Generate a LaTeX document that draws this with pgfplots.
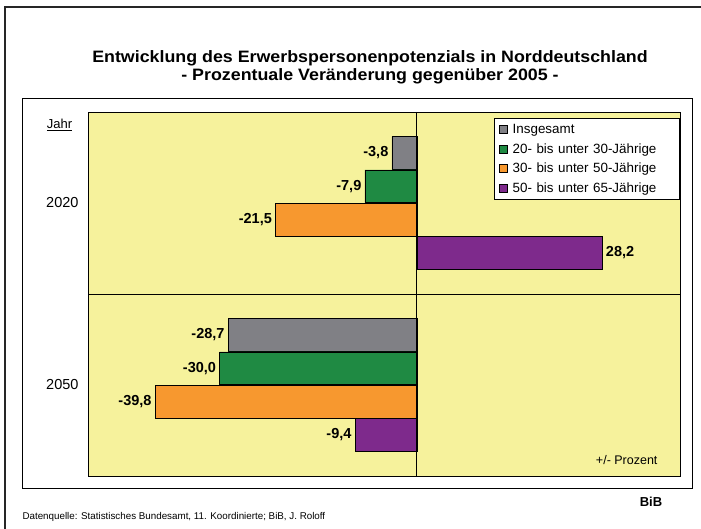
\documentclass[border=0pt]{standalone}
\usepackage{pgfplots}
\pgfplotsset{compat=1.18}
\usepackage{fontspec}
\setmainfont{Liberation Sans}
\definecolor{bgyellow}{HTML}{F6F29C}
\definecolor{barGray}{HTML}{808085}
\definecolor{barGreen}{HTML}{1F8A43}
\definecolor{barOrange}{HTML}{F7982F}
\definecolor{barPurple}{HTML}{7E2A8C}
\newcommand\pxfont[1]{\fontsize{#1pt}{#1pt}\selectfont}
\pgfplotsset{sqlegend/.style={legend image code/.code={\draw[##1,draw=black,line width=0.5pt] (0pt,-4pt) rectangle (8pt,4pt);}}}

\begin{document}
\begin{tikzpicture}
\useasboundingbox (0pt,0pt) rectangle (701pt,529pt);
\draw[line width=2.5pt,black!85] (5pt,0pt) -- (5pt,522pt) -- (701pt,522pt);
\draw[line width=0.8pt] (22pt,41pt) rectangle (692pt,431pt);
\node[font=\bfseries\pxfont{16.5}] at (370pt,470.5pt) {\scalebox{1.08}[1]{Entwicklung des Erwerbspersonenpotenzials in Norddeutschland}};
\node[font=\bfseries\pxfont{16.5}] at (370pt,453pt) {\scalebox{1.08}[1]{- Prozentuale Veränderung gegenüber 2005 -}};

\begin{axis}[at={(88pt,53pt)},anchor=south west,scale only axis,width=592pt,height=364pt,
 xbar,bar width=0.18,xmin=-50,xmax=40,ymin=-0.5,ymax=1.5,y dir=reverse,
 axis background/.style={fill=bgyellow},axis line style={line width=0.8pt},
 xtick=\empty,ytick={0,1},yticklabels={2020,2050},major tick length=0pt,
 yticklabel style={font=\pxfont{14.5},xshift=-6pt},
 point meta=x,
 nodes near coords={\pgfmathprintnumber[fixed,fixed zerofill,precision=1,use comma,assume math mode=true]{\pgfplotspointmeta}},
 every node near coord/.append style={font=\bfseries\pxfont{14.5},black},
 legend cell align=left,
 legend style={at={(1,0.9835)},anchor=north east,draw=black,fill=white,font=\pxfont{13.4},
  line width=0.6pt,inner xsep=5pt,inner ysep=4pt,row sep=4.3pt,
  /tikz/every odd column/.append style={column sep=3pt},
  /tikz/every even column/.append style={text width=160pt}}]
\addplot[fill=barGray,draw=black,line width=0.5pt,bar shift=-0.275,sqlegend] coordinates {(-3.8,0) (-28.7,1)};
\addplot[fill=barGreen,draw=black,line width=0.5pt,bar shift=-0.092,sqlegend] coordinates {(-7.9,0) (-30.0,1)};
\addplot[fill=barOrange,draw=black,line width=0.5pt,bar shift=0.092,sqlegend] coordinates {(-21.5,0) (-39.8,1)};
\addplot[fill=barPurple,draw=black,line width=0.5pt,bar shift=0.275,sqlegend] coordinates {(28.2,0) (-9.4,1)};
\legend{Insgesamt,20- bis unter 30-Jährige,30- bis unter 50-Jährige,50- bis unter 65-Jährige}
\draw[line width=0.8pt] (axis cs:0,-0.5) -- (axis cs:0,1.5);
\draw[line width=0.8pt] (axis cs:-50,0.5) -- (axis cs:40,0.5);
\node[font=\pxfont{12.5}] at (axis cs:31.9,1.415) {+/- Prozent};
\end{axis}

\node[font=\pxfont{13}] at (59.5pt,404pt) {\underline{Jahr}};
\node[font=\pxfont{9.8},anchor=west] at (19pt,12pt) {Datenquelle: Statistisches Bundesamt, 11. Koordinierte; BiB, J. Roloff};
\node[font=\bfseries\pxfont{13}] at (651pt,27pt) {BiB};
\end{tikzpicture}
\end{document}
